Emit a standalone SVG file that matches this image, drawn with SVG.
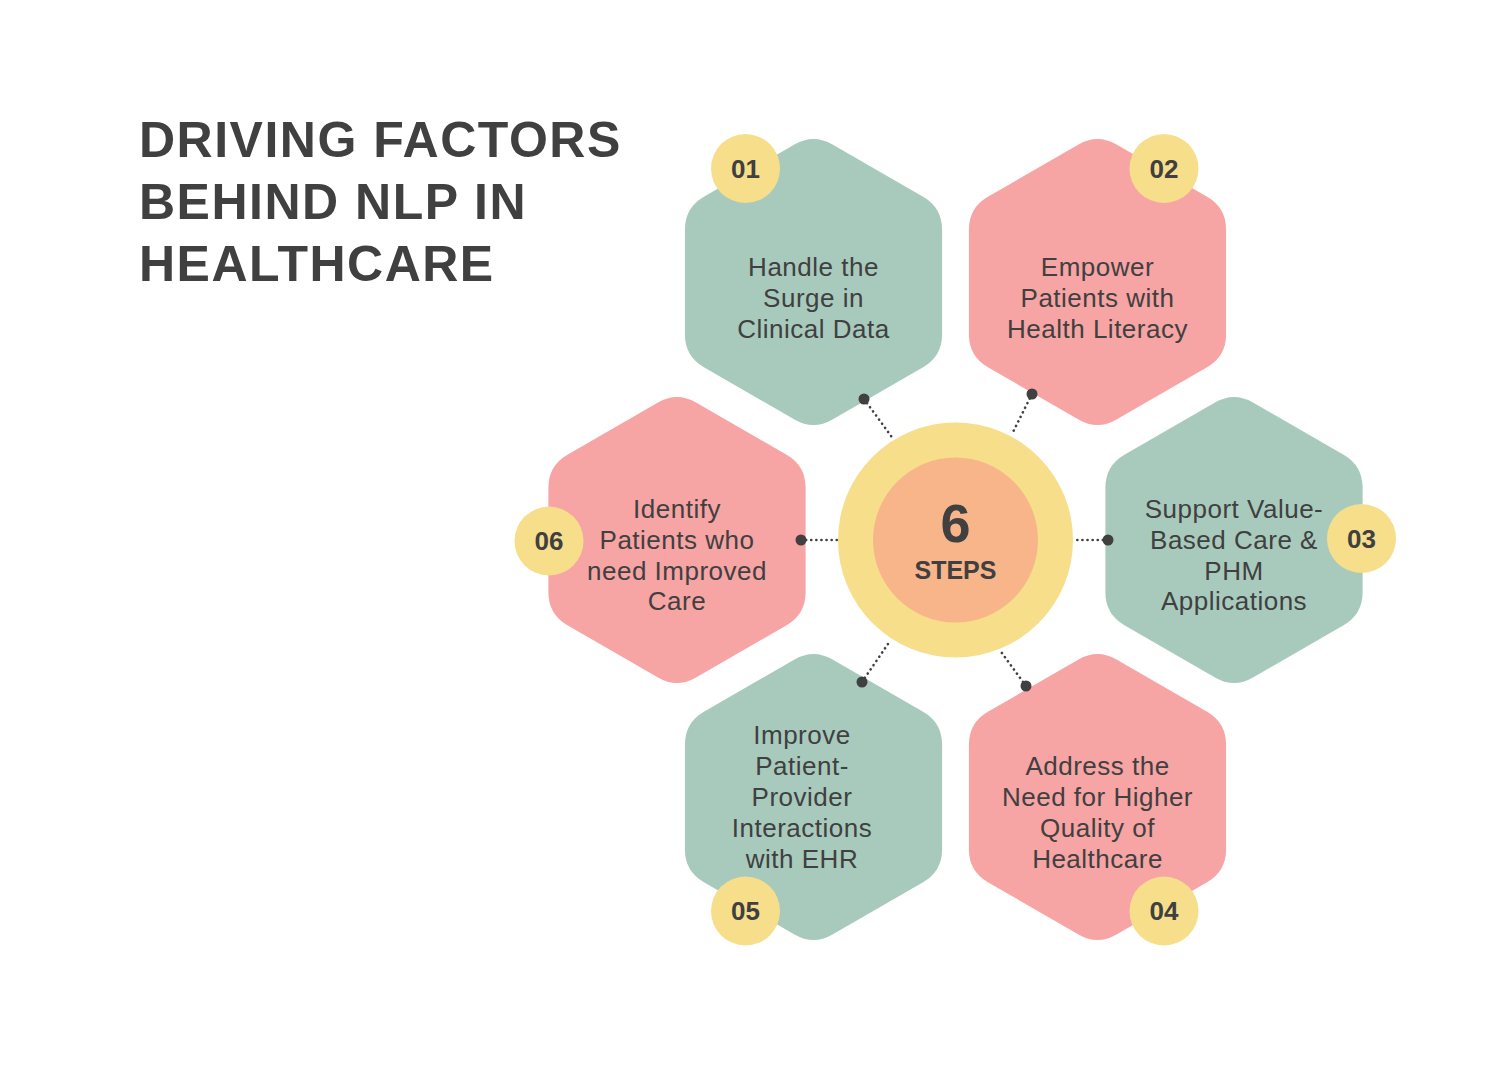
<svg xmlns="http://www.w3.org/2000/svg" xmlns:xlink="http://www.w3.org/1999/xlink" width="1500" height="1080" viewBox="0 0 1500 1080">
<defs>
<path id="hex" d="M -19,-137.5 Q 0,-148.5 19,-137.5 L 109.6,-85.2 Q 128.6,-74.2 128.6,-52.2 L 128.6,52.2 Q 128.6,74.2 109.6,85.2 L 19,137.5 Q 0,148.5 -19,137.5 L -109.6,85.2 Q -128.6,74.2 -128.6,52.2 L -128.6,-52.2 Q -128.6,-74.2 -109.6,-85.2 Z"/>
</defs>
<style>
.green{fill:#A8CABD}
.pink{fill:#F7A4A4}
.badge{fill:#F7DE8B}
.txt{font-family:"Liberation Sans",Arial,sans-serif;font-size:26px;fill:#404040;text-anchor:middle;letter-spacing:0.5px}
.num{font-family:"Liberation Sans",Arial,sans-serif;font-size:26px;font-weight:bold;fill:#404040;text-anchor:middle}
.title{font-family:"Liberation Sans",Arial,sans-serif;font-size:50px;font-weight:bold;fill:#404040;letter-spacing:1.5px}
.dots{stroke:#404040;stroke-width:2.6;stroke-dasharray:0.1 5;stroke-linecap:round;fill:none}
.dot{fill:#404040}
</style>
<rect width="1500" height="1080" fill="#FFFFFF"/>
<g id="title">
<text class="title" x="139" y="157">DRIVING FACTORS</text>
<text class="title" x="139" y="219">BEHIND NLP IN</text>
<text class="title" x="139" y="281">HEALTHCARE</text>
</g>
<g id="center">
<circle cx="955.5" cy="540" r="117.5" fill="#F7DE8B"/>
<circle cx="955.5" cy="540" r="82.5" fill="#F9B58A"/>
<text x="955.5" y="542" font-family="'Liberation Sans',Arial,sans-serif" font-size="54" font-weight="bold" fill="#404040" text-anchor="middle">6</text>
<text x="955.5" y="579" font-family="'Liberation Sans',Arial,sans-serif" font-size="25" font-weight="bold" fill="#404040" text-anchor="middle">STEPS</text>
</g>
<g id="node01">
<use xlink:href="#hex" href="#hex" class="green" x="813.5" y="282"/>
<circle class="badge" cx="745.5" cy="168.5" r="34.5"/>
<text class="num" x="745.5" y="177.5">01</text>
<text class="txt" x="813.5" y="276">Handle the</text>
<text class="txt" x="813.5" y="307">Surge in</text>
<text class="txt" x="813.5" y="338">Clinical Data</text>
</g>
<g id="node02">
<use xlink:href="#hex" href="#hex" class="pink" x="1097.5" y="282"/>
<circle class="badge" cx="1164" cy="168.5" r="34.5"/>
<text class="num" x="1164" y="177.5">02</text>
<text class="txt" x="1097.5" y="276">Empower</text>
<text class="txt" x="1097.5" y="307">Patients with</text>
<text class="txt" x="1097.5" y="338">Health Literacy</text>
</g>
<g id="node03">
<use xlink:href="#hex" href="#hex" class="green" x="1234" y="540"/>
<circle class="badge" cx="1361.5" cy="538.5" r="34.5"/>
<text class="num" x="1361.5" y="547.5">03</text>
<text class="txt" x="1234" y="518">Support Value-</text>
<text class="txt" x="1234" y="549">Based Care &amp;</text>
<text class="txt" x="1234" y="580">PHM</text>
<text class="txt" x="1234" y="610">Applications</text>
</g>
<g id="node04">
<use xlink:href="#hex" href="#hex" class="pink" x="1097.5" y="797"/>
<circle class="badge" cx="1164" cy="911" r="34.5"/>
<text class="num" x="1164" y="920">04</text>
<text class="txt" x="1097.5" y="775">Address the</text>
<text class="txt" x="1097.5" y="806">Need for Higher</text>
<text class="txt" x="1097.5" y="837">Quality of</text>
<text class="txt" x="1097.5" y="868">Healthcare</text>
</g>
<g id="node05">
<use xlink:href="#hex" href="#hex" class="green" x="813.5" y="797"/>
<circle class="badge" cx="745.5" cy="911" r="34.5"/>
<text class="num" x="745.5" y="920">05</text>
<text class="txt" x="802" y="744">Improve</text>
<text class="txt" x="802" y="775">Patient-</text>
<text class="txt" x="802" y="806">Provider</text>
<text class="txt" x="802" y="837">Interactions</text>
<text class="txt" x="802" y="868">with EHR</text>
</g>
<g id="node06">
<use xlink:href="#hex" href="#hex" class="pink" x="677" y="540"/>
<circle class="badge" cx="549" cy="541" r="34.5"/>
<text class="num" x="549" y="550">06</text>
<text class="txt" x="677" y="518">Identify</text>
<text class="txt" x="677" y="549">Patients who</text>
<text class="txt" x="677" y="580">need Improved</text>
<text class="txt" x="677" y="610">Care</text>
</g>
<g id="connectors">
<line class="dots" x1="864" y1="399" x2="894" y2="440"/>
<circle class="dot" cx="864" cy="399" r="5.5"/>
<line class="dots" x1="1032" y1="394" x2="1012" y2="434"/>
<circle class="dot" cx="1032" cy="394" r="5.5"/>
<line class="dots" x1="1108" y1="540" x2="1075" y2="540"/>
<circle class="dot" cx="1108" cy="540" r="5.5"/>
<line class="dots" x1="1026" y1="686" x2="999" y2="649"/>
<circle class="dot" cx="1026" cy="686" r="5.5"/>
<line class="dots" x1="862" y1="682" x2="890" y2="641"/>
<circle class="dot" cx="862" cy="682" r="5.5"/>
<line class="dots" x1="801" y1="540" x2="838" y2="540"/>
<circle class="dot" cx="801" cy="540" r="5.5"/>
</g>
</svg>
